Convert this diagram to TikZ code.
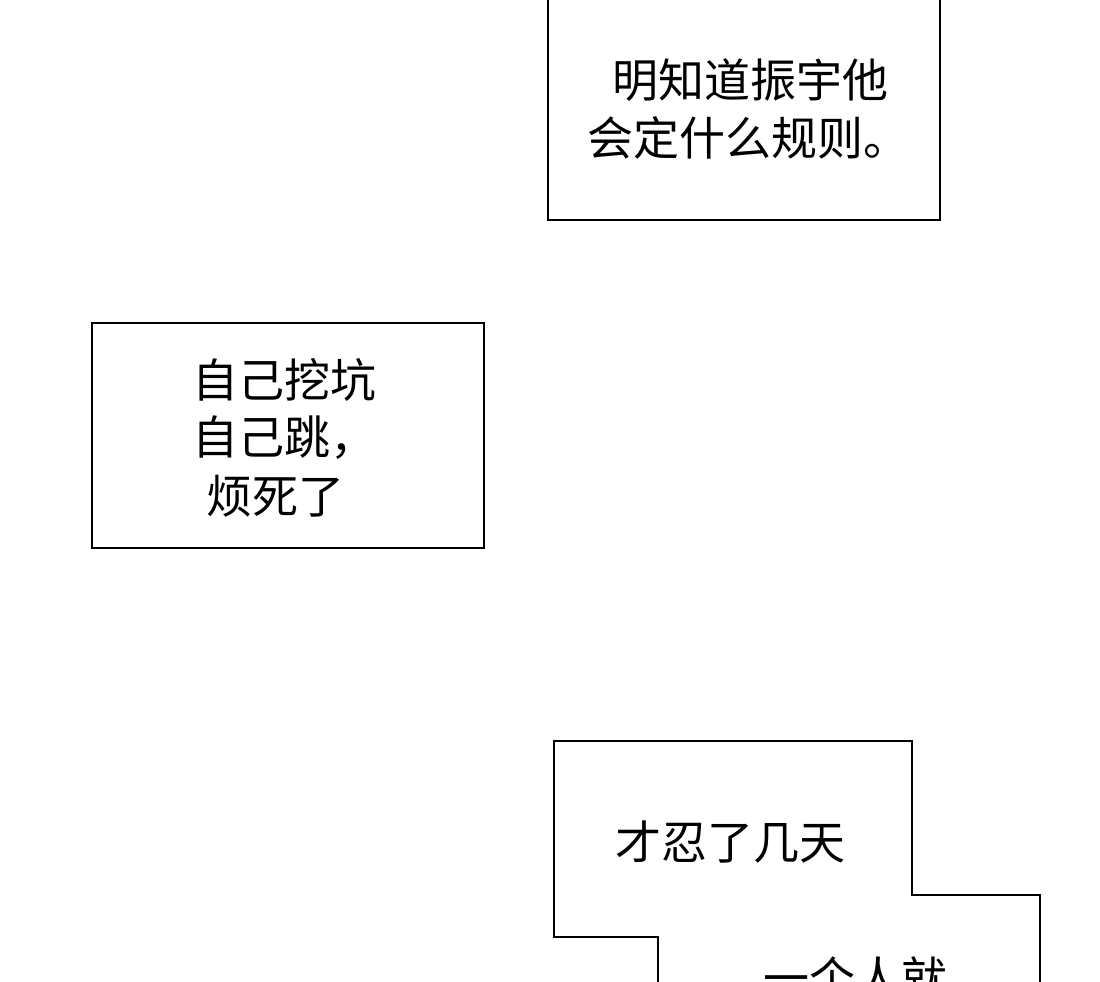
\documentclass[tikz,border=0pt]{standalone}
\usepackage{fontspec}
\newfontfamily\cjk{Noto Sans CJK SC}
\begin{document}
\begin{tikzpicture}[x=1pt,y=-1pt,
  box/.style={draw=black,line width=1.3pt,fill=white},
  txt/.style={anchor=west,inner sep=0pt,font=\cjk\fontsize{46}{56}\selectfont}]
\useasboundingbox[fill=white] (0,0) rectangle (1100,982);
\begin{scope}
\clip (0,0) rectangle (1100,982);
\draw[box] (548,-5) rectangle (940,220);
\node[txt] (a1) at (612,80) {明知道振宇他};
\node[txt] (a2) at (587,138) {会定什么规则。};
\draw[box] (92,323) rectangle (484,548);
\node[txt] (b1) at (192,380) {自己挖坑};
\node[txt] (b2) at (192,438) {自己跳，};
\node[txt] (b3) at (206,496) {烦死了};
\draw[box] (554,741) -- (912,741) -- (912,895) -- (1040,895) -- (1040,995) -- (658,995) -- (658,937) -- (554,937) -- cycle;
\node[txt] (c1) at (615,842) {才忍了几天};
\node[txt] (c2) at (763,978) {一个人就};
\end{scope}
\end{tikzpicture}
\end{document}
